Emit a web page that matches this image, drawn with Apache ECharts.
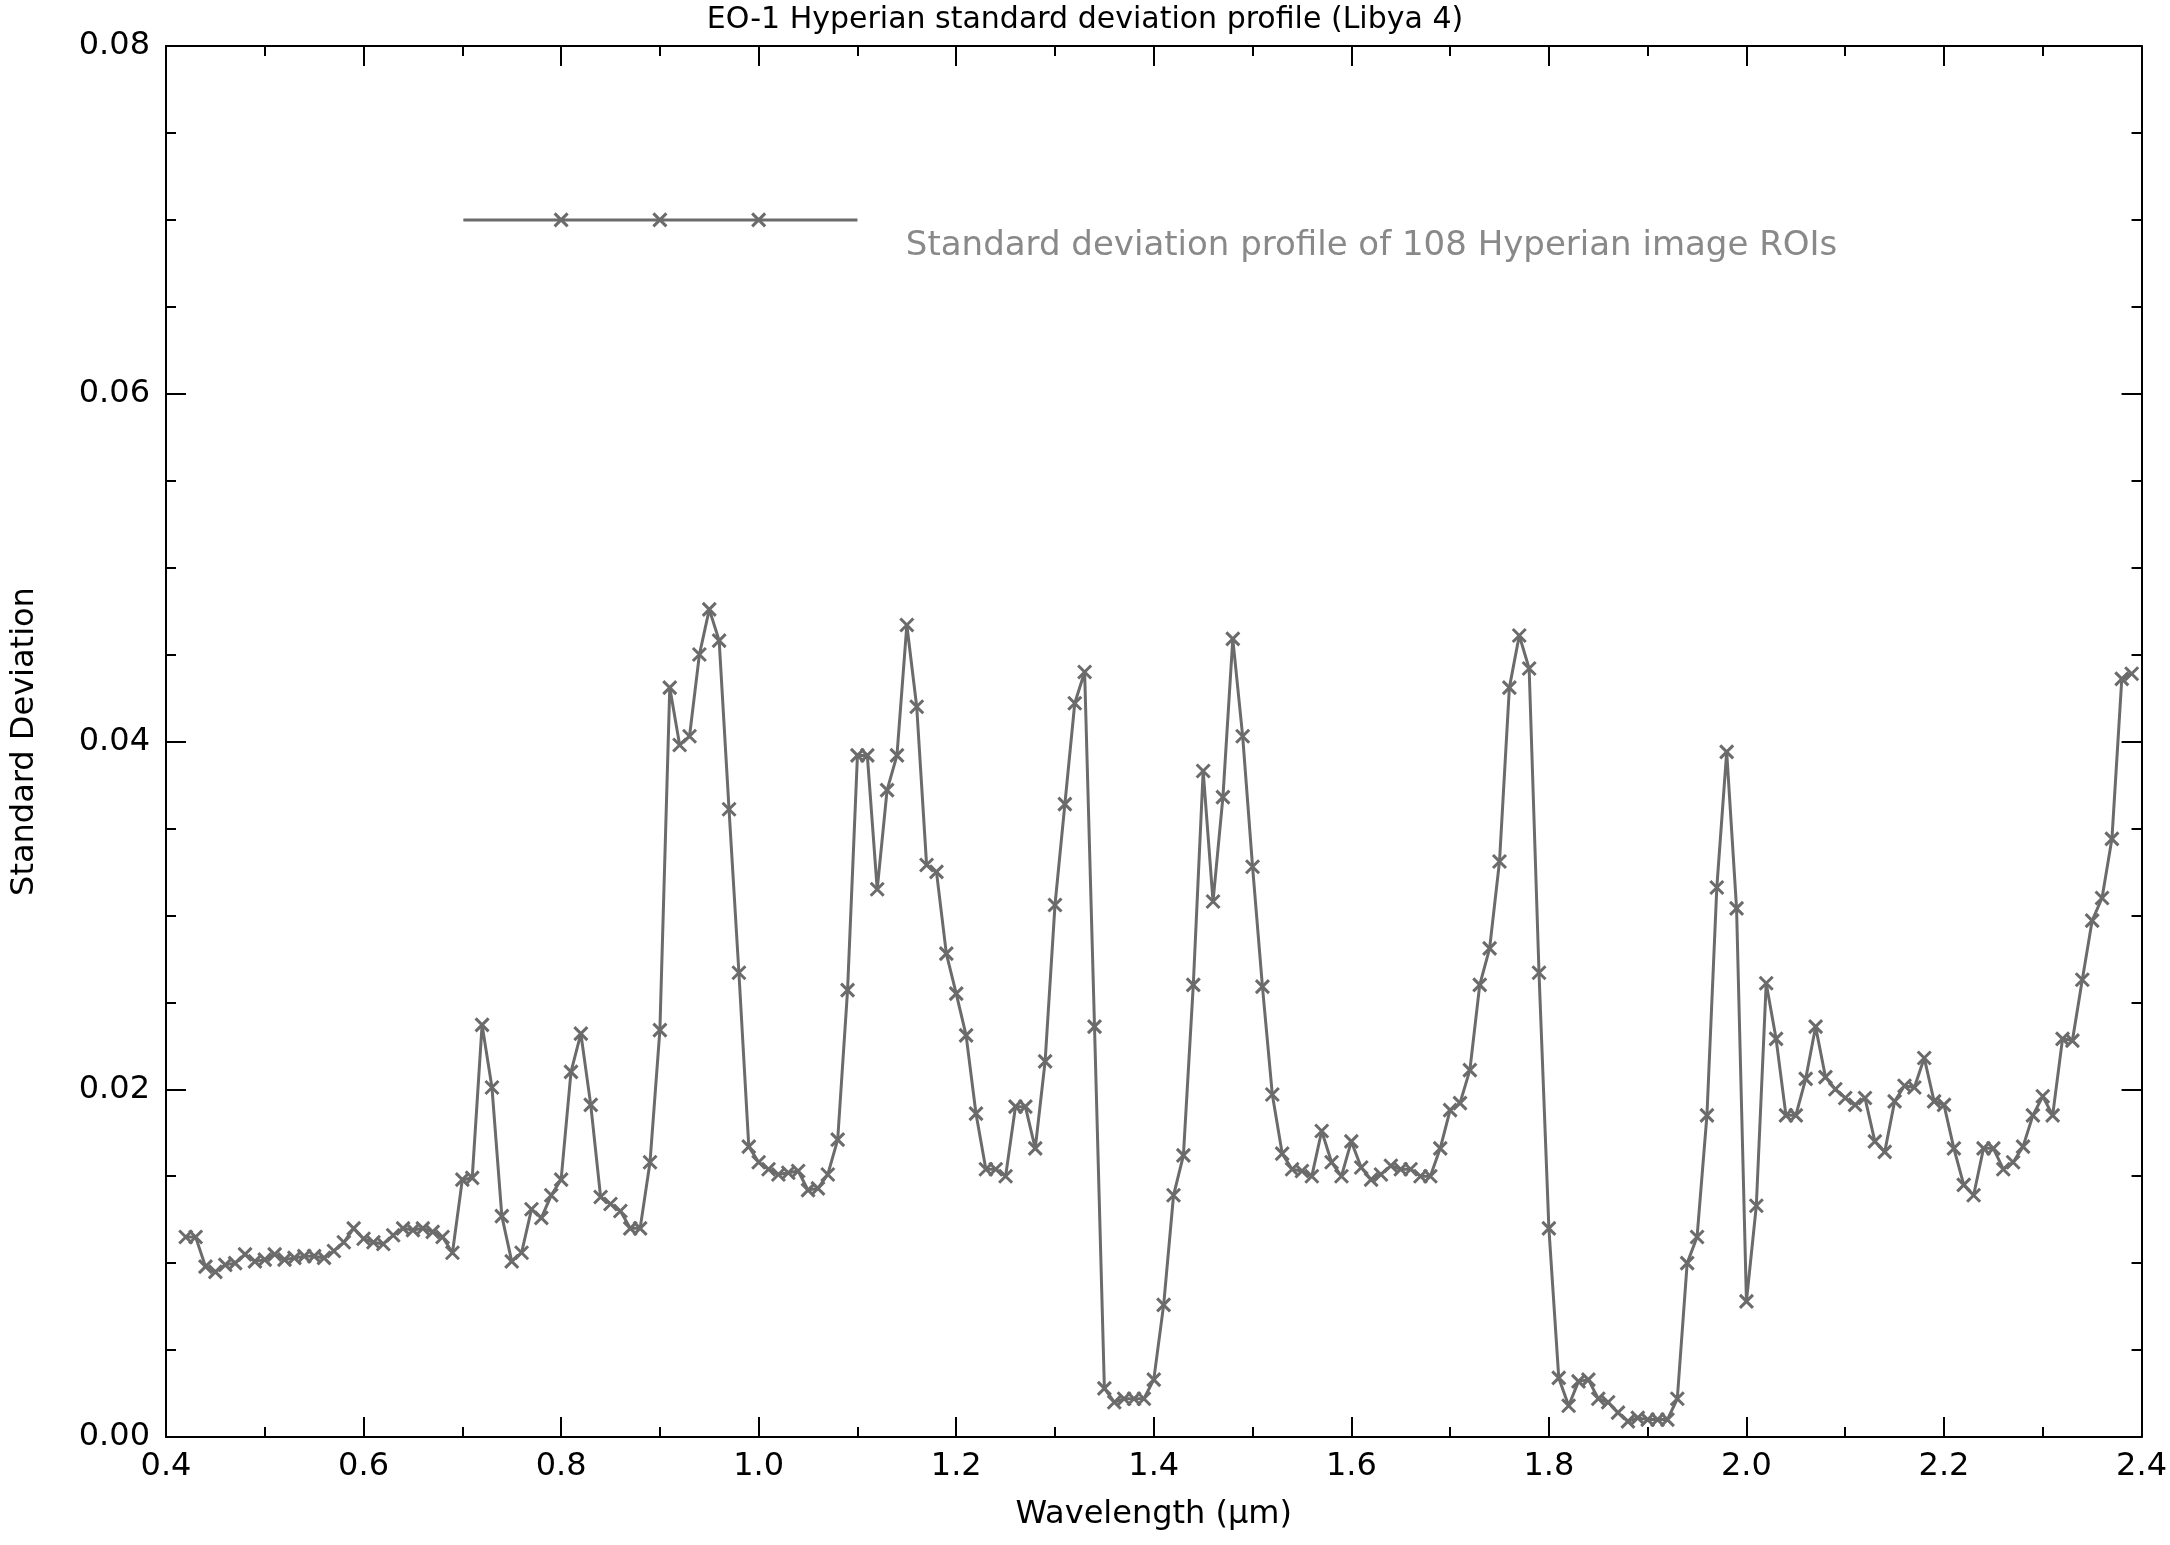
<!DOCTYPE html>
<html><head><meta charset="utf-8">
<script src="https://cdn.jsdelivr.net/npm/echarts@6/dist/echarts.min.js"></script>
<style>html,body{margin:0;padding:0;background:#fff}#c{width:2170px;height:1545px}</style>
</head><body><div id="c"></div>
<script>
const startWl = 0.42, stepWl = 0.01;
const stdValues = [0.0115,0.0115,0.0098,0.0095,0.0099,0.0100,0.0105,0.0101,0.0102,0.0105,0.0102,0.0103,0.0104,0.0104,0.0103,0.0107,0.0112,0.0120,0.0114,0.0112,0.0111,0.0116,0.0120,0.0119,0.0120,0.0118,0.0115,0.0106,0.0148,0.0149,0.0237,0.0201,0.0127,0.0101,0.0106,0.0131,0.0126,0.0139,0.0148,0.0210,0.0232,0.0191,0.0138,0.0134,0.0130,0.0120,0.0120,0.0158,0.0234,0.0431,0.0398,0.0403,0.0450,0.0476,0.0458,0.0361,0.0267,0.0167,0.0158,0.0154,0.0151,0.0152,0.0153,0.0142,0.0143,0.0151,0.0171,0.0257,0.0392,0.0392,0.0315,0.0372,0.0392,0.0467,0.0420,0.0329,0.0325,0.0278,0.0255,0.0231,0.0186,0.0154,0.0154,0.0150,0.0190,0.0190,0.0166,0.0216,0.0306,0.0364,0.0422,0.0440,0.0236,0.0028,0.0020,0.0022,0.0022,0.0022,0.0033,0.0076,0.0139,0.0162,0.0260,0.0383,0.0308,0.0368,0.0459,0.0403,0.0328,0.0259,0.0197,0.0163,0.0154,0.0153,0.0150,0.0176,0.0158,0.0150,0.0170,0.0155,0.0148,0.0151,0.0156,0.0154,0.0154,0.0150,0.0150,0.0166,0.0188,0.0192,0.0211,0.0260,0.0281,0.0331,0.0431,0.0461,0.0442,0.0267,0.0120,0.0034,0.0018,0.0032,0.0033,0.0022,0.0020,0.0014,0.0009,0.0011,0.0010,0.0010,0.0010,0.0022,0.0100,0.0115,0.0185,0.0316,0.0394,0.0304,0.0078,0.0133,0.0261,0.0229,0.0185,0.0185,0.0206,0.0236,0.0207,0.0200,0.0195,0.0191,0.0195,0.0170,0.0164,0.0193,0.0202,0.0201,0.0218,0.0193,0.0191,0.0166,0.0145,0.0139,0.0166,0.0166,0.0154,0.0158,0.0167,0.0185,0.0196,0.0185,0.0229,0.0228,0.0263,0.0297,0.0310,0.0344,0.0436,0.0439];
const wavelengths = stdValues.map((v,i)=>+(startWl+stepWl*i).toFixed(3));
const legendLine = [[0.701,0.070],[0.8,0.070],[0.9,0.070],[1.0,0.070],[1.1,0.070]];
const legendMarked = [false,true,true,true,false];
const legendText = 'Standard deviation profile of 108 Hyperian image ROIs';

const C = '#6b6b6b', F = 'DejaVu Sans';
const cross = 'path://M0,0L10,10M10,0L0,10';
const axisCommon = {
  axisLine:{show:true,onZero:false,lineStyle:{color:'#000',width:2}},
  axisTick:{show:true,inside:true,length:20,lineStyle:{color:'#000',width:2}},
  minorTick:{show:true,splitNumber:2,length:10,lineStyle:{color:'#000',width:2}},
  splitLine:{show:false}
};
const yMinor = {minorTick:{show:true,splitNumber:4,length:10,lineStyle:{color:'#000',width:2}}};
const chart = echarts.init(document.getElementById('c'));
chart.setOption({
  animation:false,
  backgroundColor:'#fff',
  title:{text:'EO-1 Hyperian standard deviation profile (Libya 4)',left:'center',top:0,
    textStyle:{fontFamily:F,fontWeight:'normal',fontSize:30,color:'#000'}},
  grid:{left:166,right:28,top:46,bottom:108},
  xAxis:[
    Object.assign({type:'value',min:0.4,max:2.4,interval:0.2,position:'bottom',
      name:'Wavelength (\u03bcm)',nameLocation:'middle',nameGap:62,
      nameTextStyle:{fontFamily:F,fontSize:32,color:'#000'},
      axisLabel:{fontFamily:F,fontSize:32,color:'#000',margin:14,formatter:v=>v.toFixed(1)}},axisCommon),
    Object.assign({type:'value',min:0.4,max:2.4,interval:0.2,position:'top',axisLabel:{show:false}},axisCommon)
  ],
  yAxis:[
    Object.assign({type:'value',min:0,max:0.08,interval:0.02,position:'left',
      name:'Standard Deviation',nameLocation:'middle',nameGap:125,
      nameTextStyle:{fontFamily:F,fontSize:32,color:'#000'},
      axisLabel:{fontFamily:F,fontSize:32,color:'#000',margin:16,formatter:v=>v.toFixed(2)}},axisCommon,yMinor),
    Object.assign({type:'value',min:0,max:0.08,interval:0.02,position:'right',axisLabel:{show:false}},axisCommon,yMinor)
  ],
  series:[
    {type:'line',data:wavelengths.map((w,i)=>[w,stdValues[i]]),symbol:cross,symbolSize:13,
     showAllSymbol:true,clip:true,lineStyle:{color:C,width:3},
     itemStyle:{color:'transparent',borderColor:C,borderWidth:3}},
    {type:'line',data:legendLine.map((p,i)=>({value:p,symbol:legendMarked[i]?cross:'none'})),symbolSize:13,
     lineStyle:{color:C,width:3},itemStyle:{color:'transparent',borderColor:C,borderWidth:3}},
    {type:'scatter',data:[[1.149,0.0685]],symbolSize:0,
     label:{show:true,position:'right',distance:0,formatter:legendText,fontFamily:F,fontSize:34,color:C}}
  ]
});
</script></body></html>
